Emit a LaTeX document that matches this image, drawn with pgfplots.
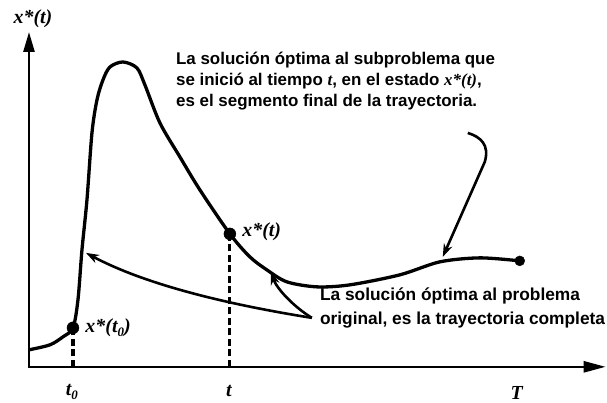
\documentclass[border=0pt]{standalone}
\usepackage{fontspec}
\usepackage{pgfplots}
\pgfplotsset{compat=1.18}
\usetikzlibrary{arrows.meta}
\setmainfont{Liberation Serif}
\newfontfamily\notefont{Liberation Sans}[BoldFont={* Bold}]
\newcommand\note{\notefont\bfseries\fontsize{17.4}{21}\selectfont}
\newcommand\topnote{\notefont\bfseries\fontsize{17}{21}\selectfont}
\newcommand\lab{\rmfamily\bfseries\itshape\fontsize{20}{20}\selectfont}
\newcommand\sub[1]{\raisebox{-0.4ex}{\fontsize{13}{13}\selectfont #1}}
\begin{document}
\begin{tikzpicture}
\begin{axis}[x=1bp, y=1bp, xmin=-29, xmax=578, ymin=-32, ymax=367,
  hide axis, clip=false]
  \path (axis cs:-29,-32) rectangle (axis cs:578,367);
  % coordinate axes
  \draw[line width=2.6bp, {Triangle[length=20bp,width=11bp]}-{Triangle[length=22bp,width=11bp]}]
    (axis cs:0,335) -- (axis cs:0,0) -- (axis cs:577,0);
  % optimal trajectory x*(t)
  \addplot[smooth, line width=3.3bp] coordinates {
    (0,17) (21,22) (34,30) (44,39) (49,67) (53,117) (58,167) (63,234)
    (68,267) (74,287) (81,300) (94,305) (108,299) (116,282) (131,244)
    (151,210) (171,177) (201,133) (221,110) (238,97) (258,85) (288,80)
    (321,82) (371,92) (411,105) (451,109) (491,106)};
  % dashed drops to the time axis
  \addplot[line width=3.2bp, dash pattern=on 7bp off 3.5bp] coordinates {(44,0) (44,39)};
  \addplot[line width=3.2bp, dash pattern=on 7bp off 3.5bp] coordinates {(201,0) (201,133)};
  % states on the trajectory
  \addplot[only marks, mark=*, mark size=6bp] coordinates {(44,39) (201,133)};
  \addplot[only marks, mark=*, mark size=5bp] coordinates {(491,106)};
  % labels
  \node[anchor=center] at (axis cs:4,348) {\lab x*(t)};
  \node[anchor=west] at (axis cs:53,39) {\lab x*(t\sub{0})};
  \node[anchor=west] at (axis cs:210,135) {\lab x*(t)};
  \node at (axis cs:43,-25) {\lab t\sub{0}};
  \node at (axis cs:200,-24) {\lab t};
  \node at (axis cs:488,-26) {\lab T};
  % annotations
  \node[anchor=north west, align=left, inner sep=0pt, font=\topnote] at (axis cs:147,315)
    {La solución óptima al subproblema que\\
     se inició al tiempo {\rmfamily\itshape t}, en el estado {\rmfamily\itshape x*(t)},\\
     es el segmento final de la trayectoria.};
  \node[anchor=north west, align=left, inner sep=0pt, font=\note] at (axis cs:291,79)
    {La solución óptima al problema\\[3bp] original, es la trayectoria completa};
  \draw[line width=2.6bp, -{Stealth[length=13bp,width=9bp]}]
    (axis cs:439,234) .. controls (axis cs:452,230) and (axis cs:461,222) .. (axis cs:456,205)
    -- (axis cs:414,110);
  \draw[line width=2.6bp, -{Stealth[length=13bp,width=9bp]}]
    (axis cs:283,49) .. controls (axis cs:195,63) and (axis cs:115,83) .. (axis cs:57,114);
  \draw[line width=2.6bp, -{Stealth[length=13bp,width=9bp]}]
    (axis cs:283,49) .. controls (axis cs:265,60) and (axis cs:248,78) .. (axis cs:242,95);
\end{axis}
\end{tikzpicture}
\end{document}
